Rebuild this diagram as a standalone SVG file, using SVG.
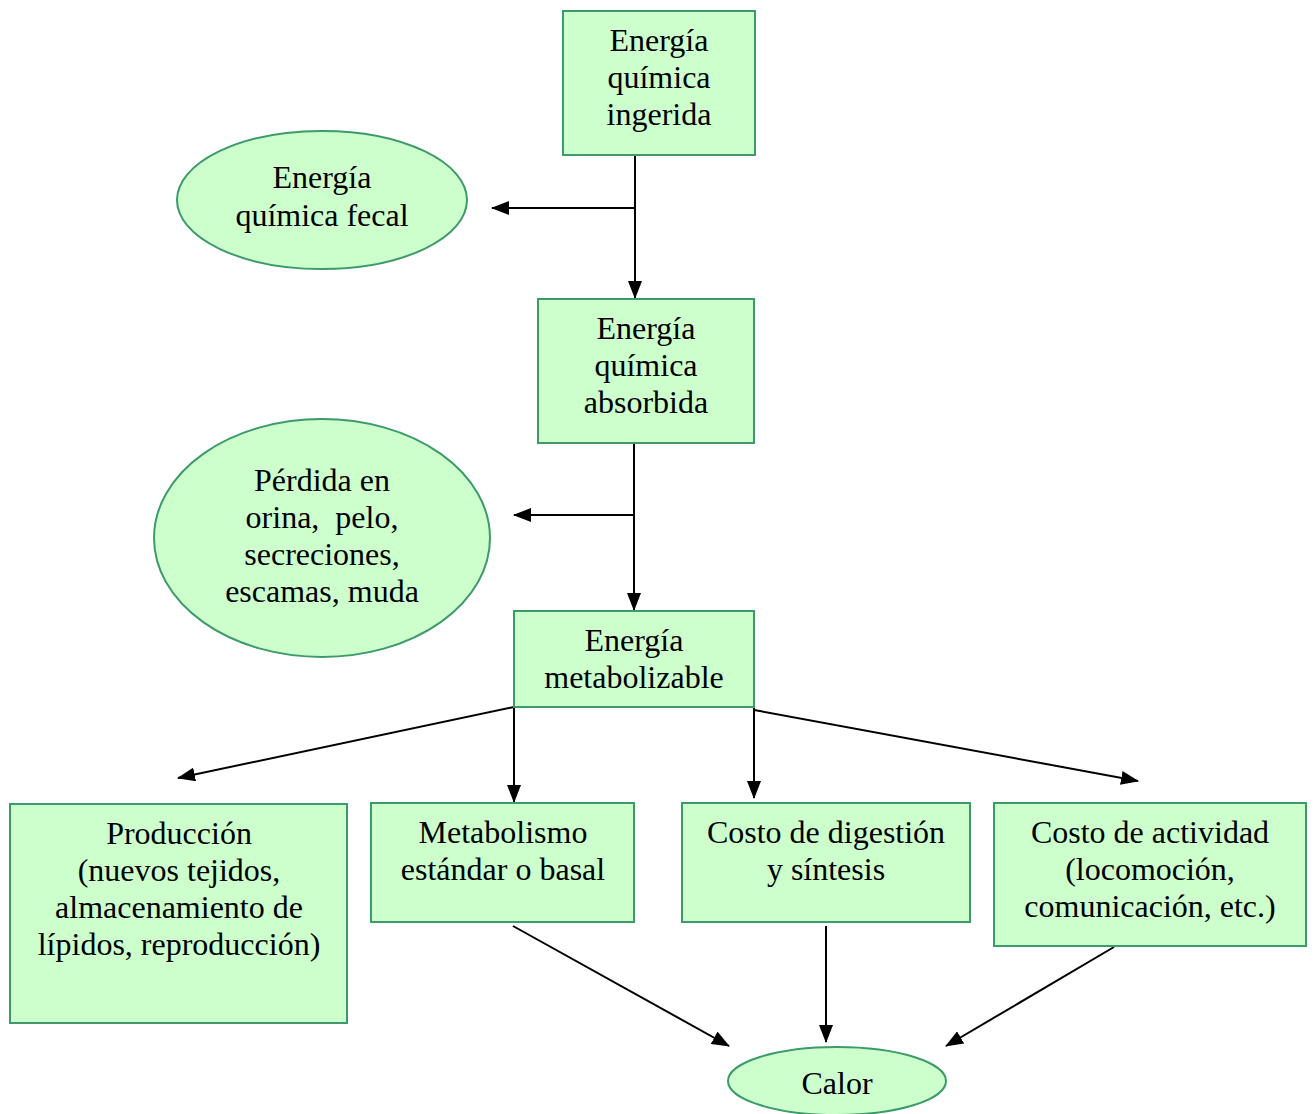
<svg xmlns="http://www.w3.org/2000/svg" width="1314" height="1114" viewBox="0 0 1314 1114">
  <style>
    .box { fill: #CCFFCC; stroke: #3D9A6B; stroke-width: 2; }
    .lbl { font-family: "Liberation Serif", "Times New Roman", serif; font-size: 32px; fill: #000; text-anchor: middle; white-space: pre; }
    .edge { stroke: #000; stroke-width: 2; fill: none; marker-end: url(#arrow); }
  </style>
  <defs>
    <marker id="arrow" markerUnits="userSpaceOnUse" markerWidth="18" markerHeight="14" refX="17" refY="7" orient="auto">
      <path d="M0,0 L18,7 L0,14 Z" fill="#000"/>
    </marker>
  </defs>
  <rect width="1314" height="1114" fill="#fff"/>

  <g id="connectors">
    <line class="edge" x1="635" y1="155" x2="635" y2="298"/>
    <line class="edge" x1="635" y1="208" x2="492" y2="208"/>
    <line class="edge" x1="634" y1="443" x2="634" y2="610"/>
    <line class="edge" x1="634" y1="515" x2="514" y2="515"/>
    <line class="edge" x1="514" y1="707" x2="178" y2="778"/>
    <line class="edge" x1="514" y1="707" x2="514" y2="802"/>
    <line class="edge" x1="754" y1="707" x2="754" y2="798"/>
    <line class="edge" x1="754" y1="710" x2="1138" y2="781"/>
    <line class="edge" x1="513" y1="926" x2="729" y2="1046"/>
    <line class="edge" x1="826" y1="926" x2="826" y2="1042"/>
    <line class="edge" x1="1114" y1="947" x2="946" y2="1046"/>
  </g>

  <g id="ingerida">
    <rect class="box" x="563" y="11" width="192" height="144"/>
    <text class="lbl" x="659" y="51">Energía</text>
    <text class="lbl" x="659" y="88">química</text>
    <text class="lbl" x="659" y="125">ingerida</text>
  </g>

  <g id="fecal">
    <ellipse class="box" cx="322" cy="200" rx="145" ry="69"/>
    <text class="lbl" x="322" y="188">Energía</text>
    <text class="lbl" x="322" y="226">química fecal</text>
  </g>

  <g id="absorbida">
    <rect class="box" x="538" y="299" width="216" height="144"/>
    <text class="lbl" x="646" y="339">Energía</text>
    <text class="lbl" x="646" y="376">química</text>
    <text class="lbl" x="646" y="413">absorbida</text>
  </g>

  <g id="perdida">
    <ellipse class="box" cx="322" cy="538" rx="168" ry="119"/>
    <text class="lbl" x="322" y="491">Pérdida en</text>
    <text class="lbl" x="322" y="528">orina,  pelo,</text>
    <text class="lbl" x="322" y="565">secreciones,</text>
    <text class="lbl" x="322" y="602">escamas, muda</text>
  </g>

  <g id="metabolizable">
    <rect class="box" x="514" y="611" width="240" height="96"/>
    <text class="lbl" x="634" y="651">Energía</text>
    <text class="lbl" x="634" y="688">metabolizable</text>
  </g>

  <g id="produccion">
    <rect class="box" x="10" y="804" width="337" height="219"/>
    <text class="lbl" x="179" y="844">Producción</text>
    <text class="lbl" x="179" y="881">(nuevos tejidos,</text>
    <text class="lbl" x="179" y="918">almacenamiento de</text>
    <text class="lbl" x="179" y="955">lípidos, reproducción)</text>
  </g>

  <g id="basal">
    <rect class="box" x="371" y="803" width="263" height="119"/>
    <text class="lbl" x="503" y="843">Metabolismo</text>
    <text class="lbl" x="503" y="880">estándar o basal</text>
  </g>

  <g id="digestion">
    <rect class="box" x="682" y="803" width="288" height="119"/>
    <text class="lbl" x="826" y="843">Costo de digestión</text>
    <text class="lbl" x="826" y="880">y síntesis</text>
  </g>

  <g id="actividad">
    <rect class="box" x="994" y="803" width="312" height="143"/>
    <text class="lbl" x="1150" y="843">Costo de actividad</text>
    <text class="lbl" x="1150" y="880">(locomoción,</text>
    <text class="lbl" x="1150" y="917">comunicación, etc.)</text>
  </g>

  <g id="calor">
    <ellipse class="box" cx="837" cy="1081" rx="109" ry="34"/>
    <text class="lbl" x="837" y="1094">Calor</text>
  </g>
</svg>
